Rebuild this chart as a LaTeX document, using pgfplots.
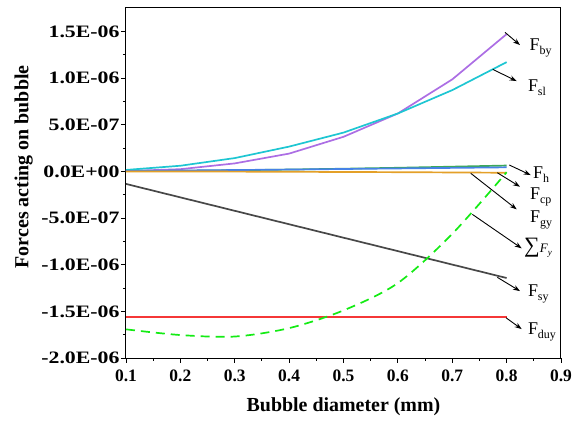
\documentclass[border=0pt]{standalone}
\usepackage{fontspec}
\setmainfont{Liberation Serif}
\usepackage{pgfplots}
\pgfplotsset{compat=1.18}
\usetikzlibrary{arrows.meta}

\definecolor{bycol}{RGB}{172,110,228}
\definecolor{slcol}{RGB}{30,198,210}
\definecolor{hcol}{RGB}{60,168,90}
\definecolor{cpcol}{RGB}{70,130,230}
\definecolor{gycol}{RGB}{228,160,40}
\definecolor{sycol}{RGB}{72,72,72}
\definecolor{dragred}{RGB}{245,55,55}
\definecolor{sumcol}{RGB}{20,235,20}

% force label: upright F with a lowered subscript
\newcommand{\Flab}[1]{{\fontsize{18}{18}\selectfont F\raisebox{-4bp}{\fontsize{12}{12}\selectfont #1}}}
% wide tick label for the force axis
\newcommand{\yl}[1]{\scalebox{1.25}[1]{#1}}
\tikzset{ann/.style={-{Stealth[length=7bp,width=5bp]}, line width=0.9bp, black}}

\begin{document}
\begin{tikzpicture}
\path[use as bounding box] (-126bp,-67bp) rectangle (458bp,358bp);
\begin{axis}[
  at={(0,0)}, anchor=south west,
  scale only axis, width=435bp, height=350bp,
  xmin=0.1, xmax=0.9, ymin=-2e-6, ymax=1.75e-6,
  scaled y ticks=false, scaled x ticks=false,
  xtick={0.1,0.2,0.3,0.4,0.5,0.6,0.7,0.8,0.9},
  xticklabels={0.1,0.2,0.3,0.4,0.5,0.6,0.7,0.8,0.9},
  ytick={-2e-6,-1.5e-6,-1e-6,-5e-7,0,5e-7,1e-6,1.5e-6},
  yticklabels={\yl{-2.0E-06},\yl{-1.5E-06},\yl{-1.0E-06},\yl{-5.0E-07},\yl{0.0E+00},\yl{5.0E-07},\yl{1.0E-06},\yl{1.5E-06}},
  minor x tick num=1, minor y tick num=1,
  tick pos=left, tick align=outside,
  major tick length=5bp, minor tick length=3bp,
  axis line style={line width=1bp, black},
  tick style={line width=0.9bp, black},
  ticklabel style={font=\bfseries\fontsize{17.5}{17.5}\selectfont},
  xticklabel style={yshift=-3bp},
  yticklabel style={xshift=2bp},
  xlabel={Bubble diameter (mm)}, ylabel={Forces acting on bubble},
  label style={font=\bfseries\fontsize{20}{20}\selectfont},
  xlabel style={at={(axis description cs:0.5,-0.14)}, anchor=center},
  ylabel style={at={(axis description cs:-0.235,0.546)}, anchor=center},
  clip=false,
]
% unsteady drag
\addplot[draw=dragred, line width=1.8bp] table {
x y
0.1 -1.565e-6
0.2 -1.565e-6
0.3 -1.565e-6
0.4 -1.565e-6
0.5 -1.565e-6
0.6 -1.565e-6
0.7 -1.565e-6
0.8 -1.565e-6
};
% buoyancy
\addplot[color=bycol, line width=1.7bp] coordinates {
 (0.1,3e-9) (0.2,2.3e-8) (0.3,8.5e-8) (0.4,1.9e-7) (0.5,3.7e-7) (0.6,6.2e-7) (0.7,9.85e-7) (0.8,1.47e-6)};
% shear lift
\addplot[color=slcol, line width=1.7bp] coordinates {
 (0.1,1.5e-8) (0.2,6e-8) (0.3,1.42e-7) (0.4,2.65e-7) (0.5,4.15e-7) (0.6,6.2e-7) (0.7,8.7e-7) (0.8,1.17e-6)};
% hydrodynamic pressure
\addplot[color=hcol, line width=1.7bp] coordinates {
 (0.1,2e-9) (0.2,6e-9) (0.3,1.2e-8) (0.4,1.9e-8) (0.5,2.8e-8) (0.6,3.8e-8) (0.7,5e-8) (0.8,6.2e-8)};
% contact pressure
\addplot[color=cpcol, line width=1.7bp] coordinates {
 (0.1,4e-9) (0.2,9e-9) (0.3,1.4e-8) (0.4,1.9e-8) (0.5,2.5e-8) (0.6,3.1e-8) (0.7,3.7e-8) (0.8,4.3e-8)};
% gravity
\addplot[color=gycol, line width=1.7bp] coordinates {
 (0.1,-1e-9) (0.2,-2e-9) (0.3,-3e-9) (0.4,-5e-9) (0.5,-7e-9) (0.6,-9e-9) (0.7,-1.2e-8) (0.8,-1.5e-8)};
% surface tension
\addplot[color=sycol, line width=1.7bp] coordinates {
 (0.1,-1.35e-7) (0.2,-2.79e-7) (0.3,-4.23e-7) (0.4,-5.67e-7) (0.5,-7.11e-7) (0.6,-8.55e-7) (0.7,-9.99e-7) (0.8,-1.143e-6)};
% resultant force
\addplot[color=sumcol, line width=1.7bp, dash pattern=on 9bp off 6bp, smooth] coordinates {
 (0.1,-1.693e-6) (0.2,-1.754e-6) (0.3,-1.77e-6) (0.4,-1.68e-6) (0.5,-1.49e-6) (0.6,-1.197e-6) (0.7,-0.67e-6) (0.8,-0.01e-6)};

% annotations
\draw[ann] (axis cs:0.797,1.489e-6) -- (axis cs:0.8246,1.353e-6);
\node[anchor=west, inner sep=0] at (axis cs:0.842,1.32e-6) {\Flab{by}};
\draw[ann] (axis cs:0.7744,1.093e-6) -- (axis cs:0.8185,0.967e-6);
\node[anchor=west, inner sep=0] at (axis cs:0.839,0.90e-6) {\Flab{sl}};
\draw[ann] (axis cs:0.805,0.0675e-6) -- (axis cs:0.8443,-0.04e-6);
\node[anchor=west, inner sep=0] at (axis cs:0.8485,-0.03e-6) {\Flab{h}};
\draw[ann] (axis cs:0.7829,-0.015e-6) -- (axis cs:0.8246,-0.165e-6);
\node[anchor=west, inner sep=0] at (axis cs:0.843,-0.275e-6) {\Flab{cp}};
\draw[ann] (axis cs:0.734,-0.021e-6) -- (axis cs:0.8185,-0.407e-6);
\node[anchor=west, inner sep=0] at (axis cs:0.843,-0.522e-6) {\Flab{gy}};
\draw[ann] (axis cs:0.737,-0.461e-6) -- (axis cs:0.8277,-0.825e-6);
\node[anchor=west, inner sep=0] at (axis cs:0.832,-0.822e-6) {{\fontsize{22}{22}\selectfont ∑}{\fontsize{13}{13}\selectfont\itshape F\raisebox{-3bp}{\fontsize{9}{9}\selectfont y}}};
\draw[ann] (axis cs:0.783,-1.136e-6) -- (axis cs:0.8246,-1.283e-6);
\node[anchor=west, inner sep=0] at (axis cs:0.839,-1.315e-6) {\Flab{sy}};
\draw[ann] (axis cs:0.7989,-1.569e-6) -- (axis cs:0.8277,-1.69e-6);
\node[anchor=west, inner sep=0] at (axis cs:0.839,-1.722e-6) {\Flab{duy}};
\end{axis}
\end{tikzpicture}
\end{document}
